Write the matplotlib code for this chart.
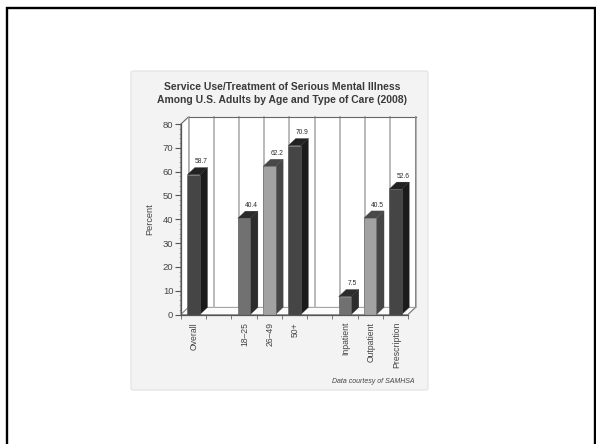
import matplotlib
matplotlib.use("Agg")
from matplotlib import pyplot as plt
from matplotlib.lines import Line2D
from matplotlib.patches import FancyBboxPatch, Polygon

plt.rcParams['font.family'] = ['Liberation Sans', 'DejaVu Sans']

W, H = 596, 444

categories = ['Overall', '', '18\u201325', '26\u201349', '50+', '', 'Inpatient', 'Outpatient', 'Prescription']
positions = [0, 2, 3, 4, 6, 7, 8]
values = [58.7, 40.4, 62.2, 70.9, 7.5, 40.5, 52.6]
value_labels = ['58.7', '40.4', '62.2', '70.9', '7.5', '40.5', '52.6']
front_colors = ['#454545', '#717171', '#a2a2a2', '#454545', '#717171', '#a2a2a2', '#454545']
side_colors = ['#1b1b1b', '#2c2c2c', '#464646', '#1b1b1b', '#2c2c2c', '#464646', '#1b1b1b']
top_colors = ['#222222', '#2c2c2c', '#484848', '#222222', '#2c2c2c', '#484848', '#222222']

ymax = 80
n = len(categories)
# depth of the fake 3D box, in data units
dx = 0.3
dy = 3.0

fig = plt.figure(figsize=(W / 100, H / 100), dpi=100, facecolor='white')

# slide border
fig.add_artist(Line2D([7.5 / W, 7.5 / W, 595 / W, 595 / W], [0, 1 - 8.5 / H, 1 - 8.5 / H, 0],
                      color='black', lw=1.7, solid_joinstyle='miter'))

# grey card behind the chart
card = FancyBboxPatch((131 / W, 1 - 390 / H), 297 / W, 319 / H,
                      boxstyle='round,pad=0,rounding_size=0.004',
                      transform=fig.transFigure, fc='#f3f3f3', ec='#e6e6e6', lw=1, zorder=-1)
fig.add_artist(card)

ax = fig.add_axes([181 / W, 1 - 314.5 / H, 227 / W, 190.5 / H])
ax.set_xlim(0, n)
ax.set_ylim(0, ymax)
ax.patch.set_visible(False)
for s in ['top', 'right']:
    ax.spines[s].set_visible(False)
for s in ['left', 'bottom']:
    ax.spines[s].set_color('#555555')
    ax.spines[s].set_linewidth(0.9)
    ax.spines[s].set_zorder(6)

# walls and floor
ax.add_patch(Polygon([(dx, dy), (n + dx, dy), (n + dx, ymax + dy), (dx, ymax + dy)],
                     fc='white', ec='none', clip_on=False, zorder=1))
ax.add_patch(Polygon([(0, 0), (dx, dy), (dx, ymax + dy), (0, ymax)],
                     fc='white', ec='#666666', lw=0.8, clip_on=False, zorder=1))
ax.add_patch(Polygon([(0, 0), (n, 0), (n + dx, dy), (dx, dy)],
                     fc='#fbfbfb', ec='#999999', lw=0.7, clip_on=False, zorder=1))

# grid on the back wall
for i in range(n + 1):
    ax.plot([i + dx, i + dx], [dy, ymax + dy], color='#b4b4b4', lw=1.3, clip_on=False, zorder=2)
ax.plot([dx, n + dx], [ymax + dy, ymax + dy], color='#666666', lw=0.8, clip_on=False, zorder=2)
ax.plot([n, n + dx, n + dx], [0, dy, ymax + dy], color='#888888', lw=0.8, clip_on=False, zorder=2)

centers = [p + 0.5 for p in positions]
width = 0.5
ax.bar(centers, values, width=width, color=front_colors, edgecolor='#5a5a5a', linewidth=0.4, zorder=4)

for c, v, side, top, lab in zip(centers, values, side_colors, top_colors, value_labels):
    l, r = c - width / 2, c + width / 2
    ax.add_patch(Polygon([(r, 0), (r + dx, dy), (r + dx, v + dy), (r, v)],
                         fc=side, ec=side, lw=0.2, clip_on=False, zorder=3))
    ax.add_patch(Polygon([(l, v), (r, v), (r + dx, v + dy), (l + dx, v + dy)],
                         fc=top, ec=top, lw=0.2, clip_on=False, zorder=3))
    ax.text(c + dx, v + dy + 0.9, lab, ha='center', va='bottom', fontsize=4.8,
            color='#2a2a2a', family=['Liberation Sans Narrow', 'Liberation Sans'], zorder=5)

ax.set_yticks(range(0, ymax + 1, 10))
ax.set_yticks(range(0, ymax + 1, 2), minor=True)
ax.tick_params(axis='y', which='major', length=4, width=0.8, color='#555555', labelsize=6.8,
               labelcolor='#444444', pad=1.5)
ax.tick_params(axis='y', which='minor', length=1.5, width=0.4, color='#777777')

ax.set_xticks(range(n + 1))
ax.tick_params(axis='x', which='major', length=3, width=0.6, color='#666666', labelbottom=False)
for i, name in enumerate(categories):
    ax.text(i + 0.54, -3.2, name, rotation=90, ha='center', va='top', fontsize=6.2, color='#444444')

fig.text(150 / W, 1 - 219 / H, 'Percent', rotation=90, ha='center', va='center', fontsize=6.6, color='#444444')

fig.text(282 / W, 1 - 87 / H, 'Service Use/Treatment of Serious Mental Illness', ha='center', va='center',
         fontsize=7.5, fontweight='bold', color='#3a3a3a')
fig.text(282 / W, 1 - 100 / H, 'Among U.S. Adults by Age and Type of Care (2008)', ha='center', va='center',
         fontsize=7.5, fontweight='bold', color='#3a3a3a')
fig.text(415 / W, 1 - 381 / H, 'Data courtesy of SAMHSA', ha='right', va='center', fontsize=5,
         style='italic', color='#444444')

fig.savefig('out.png', dpi=100)
